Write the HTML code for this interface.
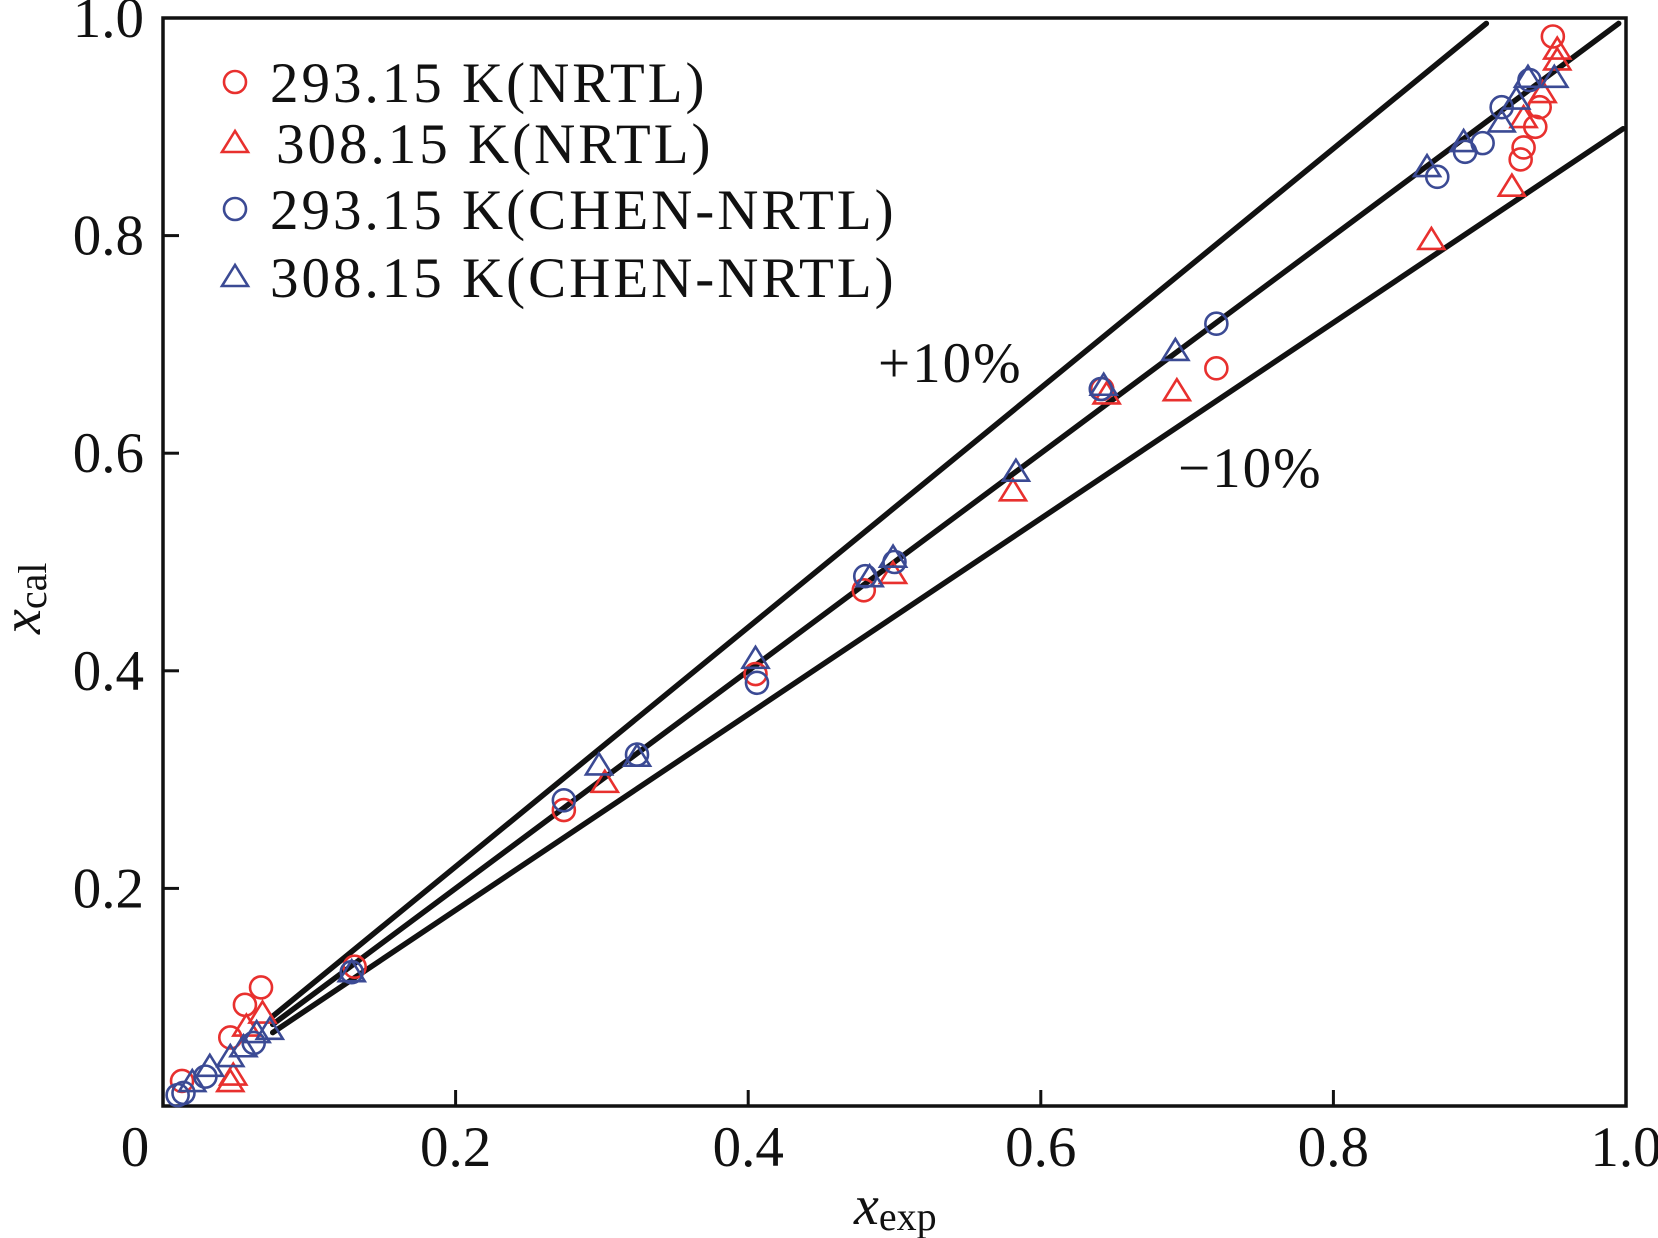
<!DOCTYPE html>
<html><head><meta charset="utf-8"><style>
html,body{margin:0;padding:0;background:#fff;}
svg{display:block;font-family:"Liberation Serif",serif;}
</style></head><body>
<svg id="chart" width="1658" height="1238" viewBox="0 0 1658 1238" xmlns="http://www.w3.org/2000/svg">
<g id="lines"></g>
<g id="axes"></g>
<g id="points"></g>
<g id="legend"></g>
<text x="878" y="382" font-size="57" letter-spacing="2" fill="#111">+10%</text>
<text x="1178" y="487" font-size="57" letter-spacing="2" fill="#111">−10%</text>
<text x="854" y="1224" font-size="56" font-style="italic" fill="#111">x<tspan font-style="normal" font-size="40" dy="6">exp</tspan></text>
<text transform="translate(40,634) rotate(-90)" font-size="56" font-style="italic" fill="#111">x<tspan font-style="normal" font-size="40" dy="6">cal</tspan></text>
</svg>
<script>
const ticks=[0,0.2,0.4,0.6,0.8,1.0];
const xTickLabels=["0","0.2","0.4","0.6","0.8","1.0"];
const yTickLabels=["","0.2","0.4","0.6","0.8","1.0"];
const seriesNames=["293.15 K(NRTL)","308.15 K(NRTL)","293.15 K(CHEN-NRTL)","308.15 K(CHEN-NRTL)"];
const rcX=[0.013,0.046,0.056,0.067,0.131,0.274,0.405,0.479,0.642,0.72,0.928,0.930,0.938,0.941,0.950];
const rcY=[0.023,0.063,0.093,0.109,0.128,0.272,0.397,0.474,0.659,0.678,0.870,0.881,0.900,0.918,0.983];
const rtX=[0.046,0.048,0.057,0.068,0.302,0.499,0.581,0.645,0.693,0.867,0.922,0.930,0.943,0.953,0.953];
const rtY=[0.022,0.028,0.073,0.085,0.297,0.489,0.565,0.654,0.657,0.796,0.845,0.908,0.931,0.961,0.971];
const bcX=[0.010,0.014,0.029,0.062,0.129,0.274,0.324,0.406,0.480,0.500,0.641,0.720,0.871,0.890,0.902,0.915,0.934];
const bcY=[0.010,0.012,0.027,0.058,0.123,0.281,0.323,0.389,0.487,0.500,0.659,0.719,0.854,0.877,0.885,0.918,0.943];
const btX=[0.020,0.032,0.046,0.055,0.064,0.073,0.129,0.298,0.324,0.405,0.483,0.499,0.583,0.643,0.692,0.864,0.889,0.915,0.925,0.933,0.951];
const btY=[0.022,0.036,0.045,0.054,0.067,0.070,0.123,0.313,0.321,0.411,0.486,0.504,0.583,0.662,0.694,0.863,0.886,0.904,0.925,0.945,0.945];
const refFactors=[1.1,1.0,0.9];
const refNames=["plus-10-line","parity-line","minus-10-line"];

const X0=163,X1=1626,Y0=1106,Y1=18;
const sx=v=>X0+v*(X1-X0), sy=v=>Y0-v*(Y0-Y1);
const NS="http://www.w3.org/2000/svg";
function mk(tag,attrs,parent){const e=document.createElementNS(NS,tag);for(const k in attrs)e.setAttribute(k,attrs[k]);parent.appendChild(e);return e;}
const RED="#e8302e",BLUE="#3b4a94";

const lines=document.getElementById('lines');
refFactors.forEach((f,i)=>{
  const xs=0.075, xe=Math.min(0.995,0.995/f);
  const l=mk('line',{x1:sx(xs),y1:sy(xs*f),x2:sx(f<1?0.998:xe),y2:sy((f<1?0.998:xe)*f),stroke:"#111","stroke-width":5.5,"stroke-linecap":"round"},lines);
  
  
});

const axes=document.getElementById('axes');
const fr=mk('rect',{x:X0,y:Y1,width:X1-X0,height:Y0-Y1,fill:"none",stroke:"#111","stroke-width":3.5},axes);


ticks.forEach((t,i)=>{
  if(t>0&&t<1){
    const a=mk('line',{x1:sx(t),y1:Y0,x2:sx(t),y2:Y0-16,stroke:"#111","stroke-width":3},axes);
    
    
    const b=mk('line',{x1:X0,y1:sy(t),x2:X0+16,y2:sy(t),stroke:"#111","stroke-width":3},axes);
    
    
  }
  const tx=mk('text',{x:t===0?sx(t)-28:sx(t),y:1166,"font-size":57,"text-anchor":"middle",fill:"#111"},axes);
  tx.textContent=xTickLabels[i];
  
  
  if(yTickLabels[i]){
    const ty=mk('text',{x:144,y:sy(t)+19,"font-size":57,"text-anchor":"end",fill:"#111"},axes);
    ty.textContent=yTickLabels[i];
    
    
  }
});

const pts=document.getElementById('points');
function circ(cx,cy,c,p){return mk('circle',{cx:cx,cy:cy,r:11,fill:"none",stroke:c,"stroke-width":2.6},p);}
function tri(cx,cy,c,p){const h=12;return mk('polygon',{points:`${cx},${cy-h} ${cx-13},${cy+9} ${cx+13},${cy+9}`,fill:"none",stroke:c,"stroke-width":2.6},p);}
function series(xs,ys,fn,c,name){
  xs.forEach((x,i)=>{const e=fn(sx(x),sy(ys[i]),c,pts);
    
    });
}
series(rcX,rcY,circ,RED,'nrtl-293-point');
series(rtX,rtY,tri,RED,'nrtl-308-point');
series(bcX,bcY,circ,BLUE,'chen-nrtl-293-point');
series(btX,btY,tri,BLUE,'chen-nrtl-308-point');

const lg=document.getElementById('legend');
const ly=[82,143,209,277], fns=[circ,tri,circ,tri], cols=[RED,RED,BLUE,BLUE];
seriesNames.forEach((n,i)=>{
  const m=fns[i](235,ly[i],cols[i],lg);
  
  
  const t=mk('text',{x:i==1?276:270,y:ly[i]+20,"font-size":57,"letter-spacing":3,fill:"#111"},lg);
  t.textContent=n;
  
  
});
</script>
</body></html>
